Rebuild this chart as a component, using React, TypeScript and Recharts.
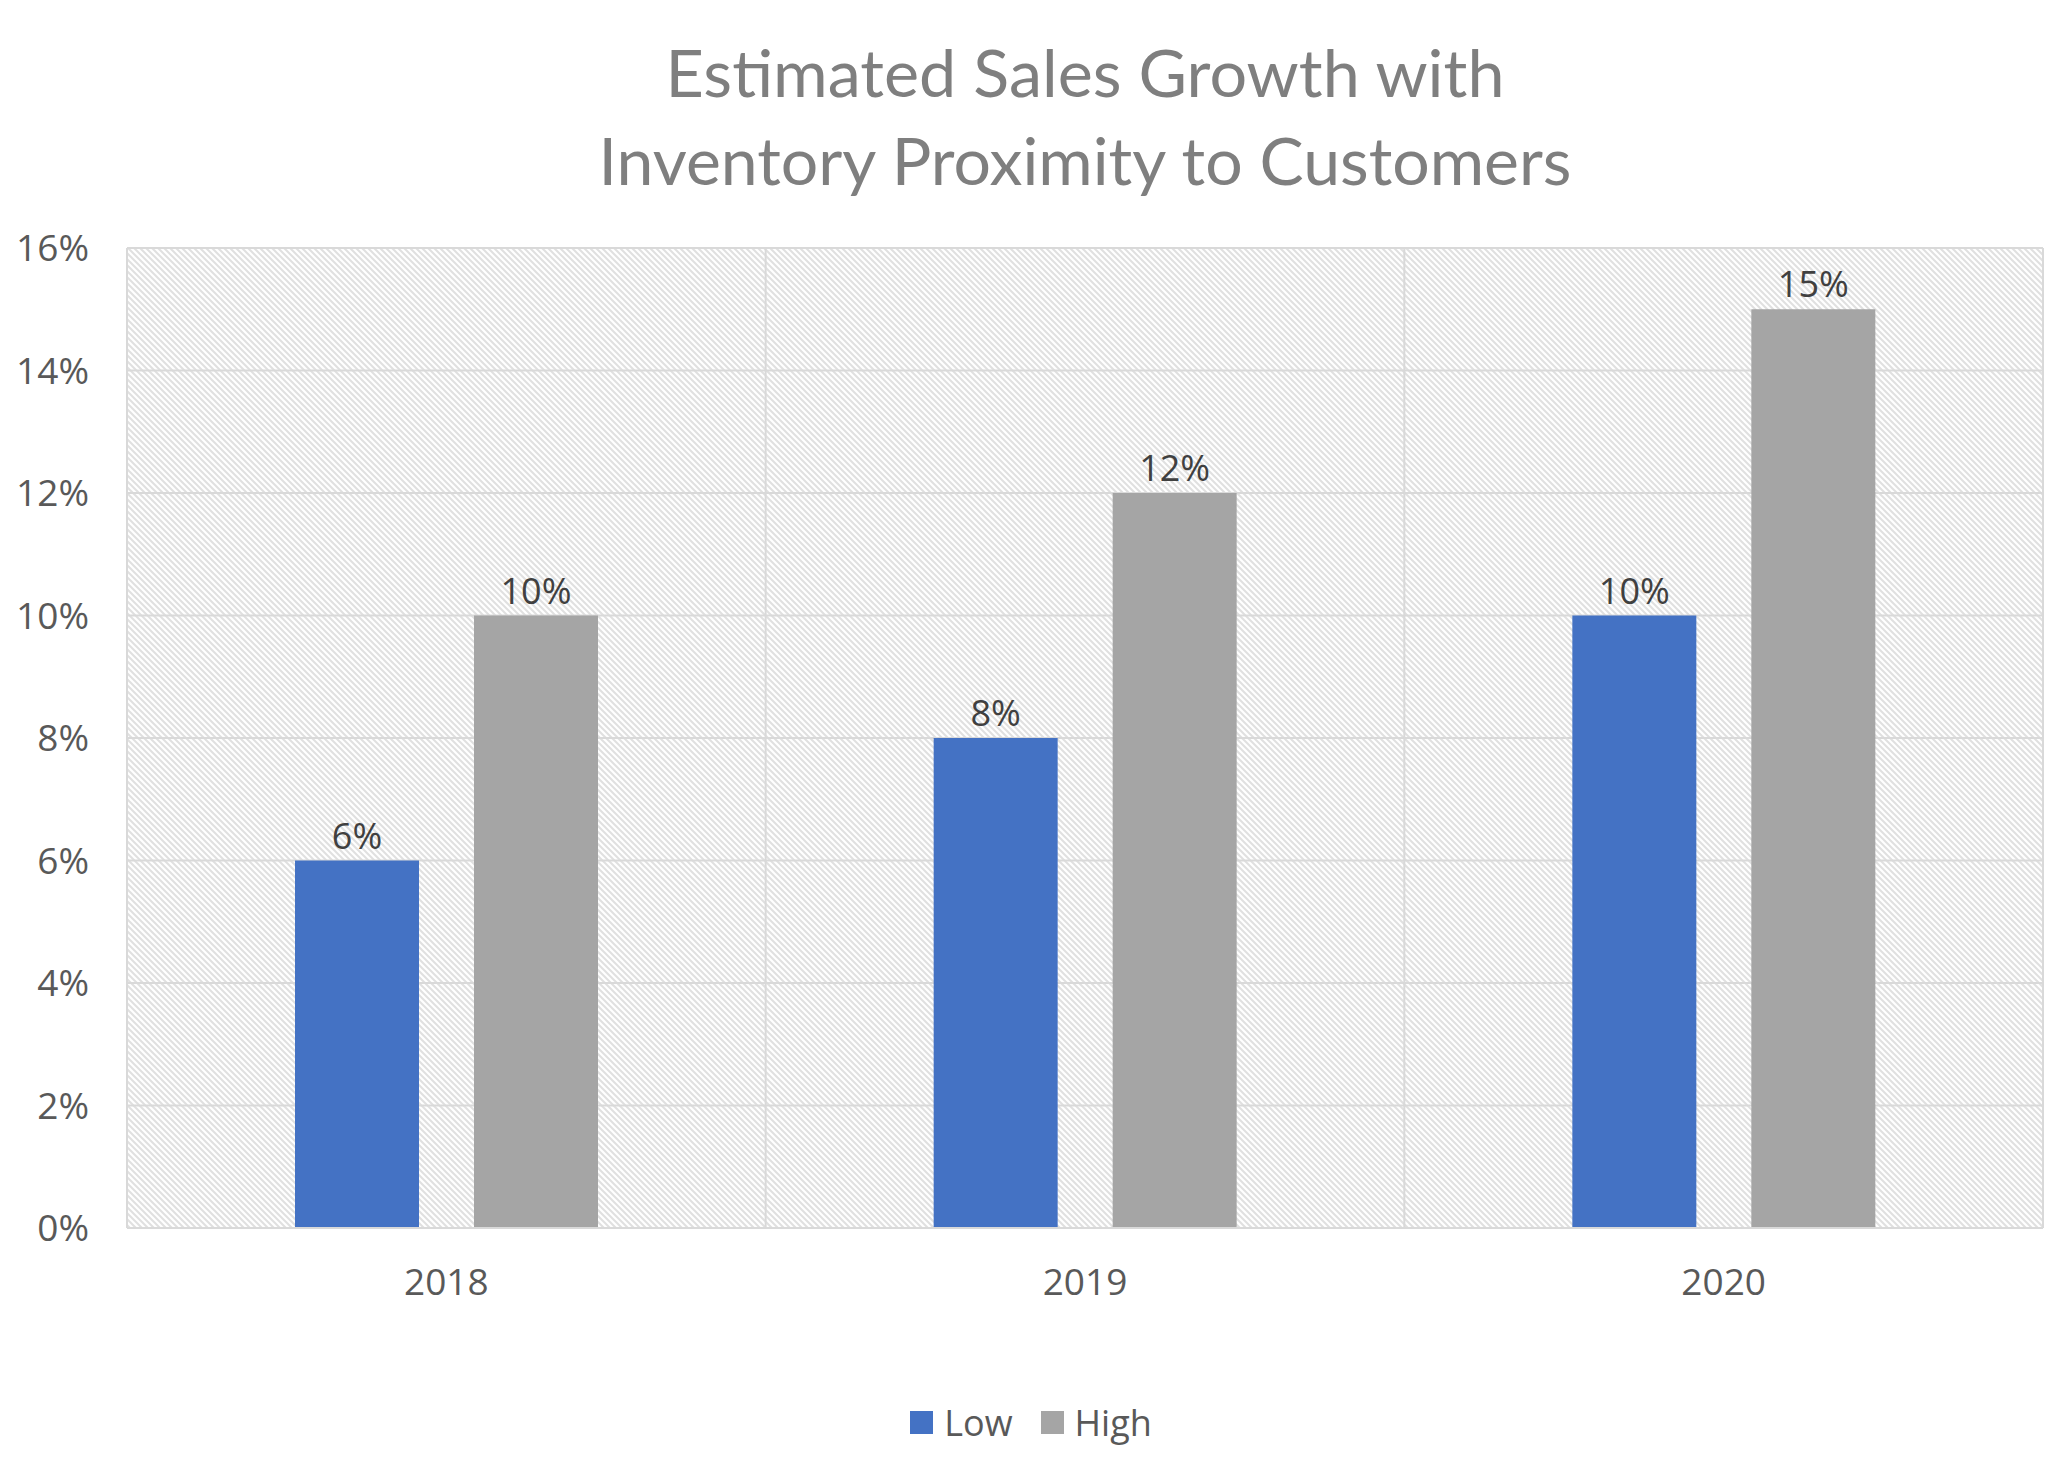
import React from 'react'
import { Bar, BarChart, CartesianGrid, LabelList, Legend, XAxis, YAxis } from 'recharts'

const years = ['2018', '2019', '2020']
const seriesNames = ['Low', 'High']
const lowValues = [6, 8, 10]
const highValues = [10, 12, 15]
const yTicks = [0, 2, 4, 6, 8, 10, 12, 14, 16]
const titleLines = ['Estimated Sales Growth with', 'Inventory Proximity to Customers']

const data = years.map((year, i) => ({ year, low: lowValues[i], high: highValues[i] }))

const W = 2062
const H = 1466
const tickFont = { fontFamily: '"Open Sans", sans-serif', fontSize: 37, fill: '#595959' }
const labelFont = { fontFamily: '"Open Sans", sans-serif', fontSize: 36, fill: '#404040' }
const titleFont = { fontFamily: 'Lato, sans-serif', fontWeight: 400, fontSize: 66, fill: '#7f7f7f' }

function LegendContent({ payload }: any) {
  // keep series order (Low, High) regardless of how recharts sorts the payload
  const items = [...(payload || [])].sort(
    (a: any, b: any) => seriesNames.indexOf(a.value) - seriesNames.indexOf(b.value)
  )
  return (
    <div style={{ display: 'flex', justifyContent: 'center', alignItems: 'center', height: 44 }}>
      {items.map((item: any, i: number) => (
        <div key={item.value} style={{ display: 'flex', alignItems: 'center', marginLeft: i === 0 ? 0 : 28 }}>
          <span style={{ width: 23, height: 23, background: item.color, display: 'inline-block', marginRight: 11 }} />
          <span style={{ fontFamily: '"Open Sans", sans-serif', fontSize: 36, color: '#595959' }}>{item.value}</span>
        </div>
      ))}
    </div>
  )
}

export default function App() {
  return (
    <div style={{ position: 'absolute', left: 0, top: 0, width: W, height: H, background: '#fff' }}>
      <svg width={0} height={0} style={{ position: 'absolute' }}>
        <defs>
          <pattern id="hatch" width={6} height={6} patternUnits="userSpaceOnUse">
            <rect width={6} height={6} fill="#ffffff" />
            <path d="M-1,-1 L7,7 M-1,5 L1,7 M5,-1 L7,1" stroke="#e0e0e0" strokeWidth={2} />
          </pattern>
        </defs>
      </svg>
      <BarChart
        width={W}
        height={H}
        data={data}
        margin={{ top: 248, right: 19, left: 0, bottom: 138 }}
        barGap={55}
        barSize={124}
      >
        <CartesianGrid
          stroke="#d9d9d9"
          strokeWidth={2}
          fill="url(#hatch)"
          verticalCoordinatesGenerator={({ offset }: any) =>
            [0, 1, 2, 3].map((i) => offset.left + (i * offset.width) / years.length)
          }
        />
        <XAxis
          dataKey="year"
          height={100}
          tickLine={false}
          tickSize={0}
          tickMargin={41}
          axisLine={{ stroke: '#d9d9d9', strokeWidth: 2 }}
          tick={tickFont}
        />
        <YAxis
          width={127}
          domain={[0, 16]}
          ticks={yTicks}
          tickFormatter={(v: number) => `${v}%`}
          axisLine={false}
          tickLine={false}
          tickSize={0}
          tickMargin={38}
          tick={tickFont}
        />
        <Legend
          layout="horizontal"
          verticalAlign="middle"
          align="center"
          wrapperStyle={{ top: 1400, left: 0, width: W }}
          content={<LegendContent />}
        />
        <Bar dataKey="low" name="Low" fill="#4472C4" isAnimationActive={false}>
          <LabelList dataKey="low" position="top" offset={12} formatter={(v: any) => `${v}%`} style={labelFont} />
        </Bar>
        <Bar dataKey="high" name="High" fill="#A5A5A5" isAnimationActive={false}>
          <LabelList dataKey="high" position="top" offset={12} formatter={(v: any) => `${v}%`} style={labelFont} />
        </Bar>
      </BarChart>
      <svg width={W} height={230} style={{ position: 'absolute', left: 0, top: 0, pointerEvents: 'none' }}>
        <text x={1085} y={97} textAnchor="middle" textLength={839} lengthAdjust="spacingAndGlyphs" style={titleFont}>
          {titleLines[0]}
        </text>
        <text x={1085} y={185} textAnchor="middle" textLength={973} lengthAdjust="spacingAndGlyphs" style={titleFont}>
          {titleLines[1]}
        </text>
      </svg>
    </div>
  )
}
